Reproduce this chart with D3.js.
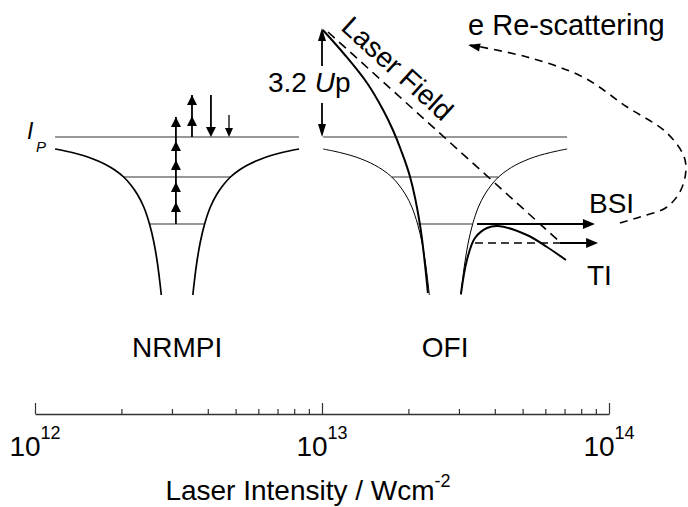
<!DOCTYPE html>
<html>
<head>
<meta charset="utf-8">
<script src="https://cdn.jsdelivr.net/npm/d3@7"></script>
<style>
  html, body { margin: 0; padding: 0; background: #fff; }
  svg { display: block; font-family: "Liberation Sans", Arial, sans-serif; }
</style>
</head>
<body>
<div id="chart"></div>
<script>
const width = 688, height = 507;

// x is log10 of laser intensity (W cm^-2), y is energy (arbitrary units, Ip = 0)
const decades = [12, 13, 14];
const minorMultipliers = [2, 3, 4, 5, 6, 7, 8, 9];

const wellNames = ["NRMPI", "OFI"];
const wellCenters = [12.495, 13.429];

// half profile of the Coulomb well: offset from the centre (decades) and energy
const wellOffsets = [0.425, 0.390, 0.346, 0.311, 0.275, 0.246, 0.217, 0.186, 0.161, 0.137, 0.116, 0.096, 0.081, 0.069, 0.060, 0.055];
const wellEnergies = [-1.2, -1.4, -1.7, -2.0, -2.4, -2.8, -3.3, -4.0, -4.8, -5.8, -7.0, -8.7, -10.5, -12.5, -14.5, -15.8];

// bound levels and how far they reach inside the well
const levelEnergies = [0, -4.0, -8.7];
const levelHalfWidths = [0.425, 0.186, 0.094];

// well bent by the laser field (OFI)
const fieldLeftX = [13.003, 13.080, 13.157, 13.213, 13.247, 13.275, 13.307, 13.341, 13.369];
const fieldLeftE = [10.7, 8.2, 5.4, 2.7, 0.7, -1.3, -4.0, -8.7, -15.6];
const fieldRightX = [13.484, 13.505, 13.533, 13.575, 13.613, 13.714, 13.784, 13.850];
const fieldRightE = [-15.7, -12.3, -10.1, -9.1, -8.9, -9.8, -11.0, -12.3];

// straight laser field line
const laserX = [13.021, 13.829];
const laserE = [10.5, -10.5];

// 3.2 Up arrow
const upX = 13.0;
const upE = [0, 10.9];

// multiphoton ladder (NRMPI)
const ladderX = 12.491, ladderFrom = -8.7;
const ladderTips = [-6.5, -4.5, -2.3, -0.4, 2.0];
const atiX = 12.547, atiFrom = 0;
const atiTips = [2.1, 4.2];
const emitX = [12.613, 12.676];
const emitFrom = [4.2, 2.2];

// barrier suppression and tunnelling
const bsiE = -8.7, bsiX = [13.540, 13.951];
const tiE = -10.6, tiDashX = [13.533, 13.829], tiArrowX = [13.829, 13.962];

// re-scattering loop
const rescatterX = [14.038, 14.108, 14.202, 14.255, 14.265, 14.202, 14.063, 13.909, 13.714, 13.516];
const rescatterE = [-8.6, -8.0, -7.0, -5.0, -2.3, 0.4, 3.0, 6.0, 8.0, 9.2];

const svg = d3.select("#chart").append("svg")
    .attr("width", width)
    .attr("height", height);

const x = d3.scaleLinear().domain([12, 14]).range([35, 609]);
const xLog = d3.scaleLog().domain([1e12, 1e14]).range([35, 609]);
const y = d3.scaleLinear().domain([0, -15.8]).range([137, 295]);

const line = d3.line()
    .x(d => x(d[0]))
    .y(d => y(d[1]))
    .curve(d3.curveCatmullRom.alpha(0.5));

function arrowHead(tipX, tipY, dx, dy, len, wid) {
    const n = Math.hypot(dx, dy);
    dx /= n; dy /= n;
    const bx = tipX - dx * len, by = tipY - dy * len;
    const px = -dy * wid / 2, py = dx * wid / 2;
    svg.append("path")
        .attr("d", `M${tipX},${tipY}L${bx + px},${by + py}L${bx - px},${by - py}Z`)
        .attr("fill", "#000");
}

// energy levels
wellCenters.forEach(c => {
    levelEnergies.forEach((e, i) => {
        svg.append("line")
            .attr("x1", x(c - levelHalfWidths[i]))
            .attr("x2", x(c + levelHalfWidths[i]))
            .attr("y1", y(e)).attr("y2", y(e))
            .attr("stroke", "#333")
            .attr("stroke-width", 1.2);
    });
});

// Coulomb wells
wellCenters.forEach((c, w) => {
    [-1, 1].forEach(side => {
        const pts = wellOffsets.map((o, i) => [c + side * o, wellEnergies[i]]);
        svg.append("path")
            .attr("d", line(pts))
            .attr("fill", "none")
            .attr("stroke", "#000")
            .attr("stroke-width", w === 0 ? 1.7 : 1);
    });
});

// field-bent potential
[[fieldLeftX, fieldLeftE], [fieldRightX, fieldRightE]].forEach(([xs, es]) => {
    svg.append("path")
        .attr("d", line(xs.map((v, i) => [v, es[i]])))
        .attr("fill", "none")
        .attr("stroke", "#000")
        .attr("stroke-width", 2);
});

// laser field dashed line
svg.append("line")
    .attr("x1", x(laserX[0])).attr("y1", y(laserE[0]))
    .attr("x2", x(laserX[1])).attr("y2", y(laserE[1]))
    .attr("stroke", "#000")
    .attr("stroke-width", 1.6)
    .attr("stroke-dasharray", "9,6");

// photon ladder
svg.append("line")
    .attr("x1", x(ladderX)).attr("x2", x(ladderX))
    .attr("y1", y(ladderFrom)).attr("y2", y(d3.max(ladderTips)))
    .attr("stroke", "#000").attr("stroke-width", 1.8);
ladderTips.forEach(t => arrowHead(x(ladderX), y(t), 0, -1, 10, 10));

svg.append("line")
    .attr("x1", x(atiX)).attr("x2", x(atiX))
    .attr("y1", y(atiFrom)).attr("y2", y(d3.max(atiTips)))
    .attr("stroke", "#000").attr("stroke-width", 1.8);
atiTips.forEach(t => arrowHead(x(atiX), y(t), 0, -1, 10, 10));

emitX.forEach((ex, i) => {
    svg.append("line")
        .attr("x1", x(ex)).attr("x2", x(ex))
        .attr("y1", y(emitFrom[i])).attr("y2", y(0) - 4)
        .attr("stroke", "#000").attr("stroke-width", i === 0 ? 1.8 : 1.3);
    arrowHead(x(ex), y(0), 0, 1, i === 0 ? 10 : 9, i === 0 ? 10 : 8);
});

// BSI and TI arrows
svg.append("line")
    .attr("x1", x(bsiX[0])).attr("x2", x(bsiX[1]) - 6)
    .attr("y1", y(bsiE)).attr("y2", y(bsiE))
    .attr("stroke", "#000").attr("stroke-width", 1.8);
arrowHead(x(bsiX[1]), y(bsiE), 1, 0, 12, 10);

svg.append("line")
    .attr("x1", x(tiDashX[0])).attr("x2", x(tiDashX[1]))
    .attr("y1", y(tiE)).attr("y2", y(tiE))
    .attr("stroke", "#000").attr("stroke-width", 1.6)
    .attr("stroke-dasharray", "8,5");
svg.append("line")
    .attr("x1", x(tiArrowX[0])).attr("x2", x(tiArrowX[1]) - 6)
    .attr("y1", y(tiE)).attr("y2", y(tiE))
    .attr("stroke", "#000").attr("stroke-width", 1.8);
arrowHead(x(tiArrowX[1]), y(tiE), 1, 0, 12, 10);

// re-scattering loop
const loopPts = rescatterX.map((v, i) => [v, rescatterE[i]]);
svg.append("path")
    .attr("d", line(loopPts))
    .attr("fill", "none")
    .attr("stroke", "#000")
    .attr("stroke-width", 1.6)
    .attr("stroke-dasharray", "8,6");
{
    const a = loopPts[loopPts.length - 2], b = loopPts[loopPts.length - 1];
    arrowHead(x(b[0]) - 2, y(b[1]), x(b[0]) - x(a[0]), y(b[1]) - y(a[1]), 12, 8);
}

// 3.2 Up arrow
svg.append("line")
    .attr("x1", x(upX)).attr("x2", x(upX))
    .attr("y1", y(upE[0]) - 6).attr("y2", y(upE[1]) + 6)
    .attr("stroke", "#000").attr("stroke-width", 1.8);
arrowHead(x(upX), y(upE[1]), 0, -1, 13, 8);
arrowHead(x(upX), y(upE[0]), 0, 1, 13, 8);

const upLabel = svg.append("text")
    .attr("x", 268).attr("y", 92)
    .attr("font-size", 28)
    .attr("fill", "#000");
upLabel.append("tspan").text("3.2 ");
upLabel.append("tspan").attr("font-style", "italic").text("U");
upLabel.append("tspan").text("p");
const bb = upLabel.node().getBBox();
svg.insert("rect", "text")
    .attr("x", bb.x + 40).attr("y", bb.y - 1)
    .attr("width", bb.width - 40).attr("height", bb.height + 6)
    .attr("fill", "#fff");

// Ip label
svg.append("text")
    .attr("x", 27).attr("y", 139)
    .attr("font-size", 23).attr("font-style", "italic")
    .text("I");
svg.append("text")
    .attr("x", 36).attr("y", 152)
    .attr("font-size", 15).attr("font-style", "italic")
    .text("P");

// Laser Field label along the dashed line
{
    const x0 = x(laserX[0]), y0 = y(laserE[0]);
    const x1 = x(laserX[1]), y1 = y(laserE[1]);
    const len = Math.hypot(x1 - x0, y1 - y0);
    const ux = (x1 - x0) / len, uy = (y1 - y0) / len;
    const ang = Math.atan2(uy, ux) * 180 / Math.PI;
    const px = x0 + 76 * ux + 10 * uy, py = y0 + 76 * uy - 10 * ux;
    svg.append("text")
        .attr("transform", `translate(${px},${py}) rotate(${ang})`)
        .attr("text-anchor", "middle")
        .attr("font-size", 28)
        .text("Laser Field");
}

svg.append("text").attr("x", 468).attr("y", 35).attr("font-size", 29).text("e Re-scattering");
svg.append("text").attr("x", 589).attr("y", 213).attr("font-size", 28).text("BSI");
svg.append("text").attr("x", 587).attr("y", 285).attr("font-size", 28).text("TI");

wellNames.forEach((name, i) => {
    svg.append("text")
        .attr("x", x(wellCenters[i])).attr("y", 357)
        .attr("text-anchor", "middle")
        .attr("font-size", 28)
        .text(name);
});

// intensity axis
const tickValues = [];
decades.forEach((d, i) => {
    tickValues.push(Math.pow(10, d));
    if (i < decades.length - 1) minorMultipliers.forEach(m => tickValues.push(m * Math.pow(10, d)));
});

const axisG = svg.append("g")
    .attr("transform", "translate(0,414)")
    .call(d3.axisTop(xLog).tickValues(tickValues).tickFormat("").tickSizeOuter(0));
axisG.select(".domain").attr("stroke", "#333").attr("stroke-width", 1.3);
axisG.selectAll(".tick line")
    .attr("stroke", "#333")
    .attr("stroke-width", 1.2)
    .attr("y2", d => decades.includes(Math.round(Math.log10(d) * 1000) / 1000) ? -11 : -5);

decades.forEach(d => {
    const t = svg.append("text")
        .attr("x", xLog(Math.pow(10, d)))
        .attr("y", 456)
        .attr("text-anchor", "middle")
        .attr("font-size", 28);
    t.append("tspan").text("10");
    t.append("tspan").attr("dy", -17).attr("font-size", 18).text(d);
});

const title = svg.append("text")
    .attr("x", 308).attr("y", 500)
    .attr("text-anchor", "middle")
    .attr("font-size", 28);
title.append("tspan").text("Laser Intensity / Wcm");
title.append("tspan").attr("dy", -13).attr("font-size", 18).text("-2");
</script>
</body>
</html>
